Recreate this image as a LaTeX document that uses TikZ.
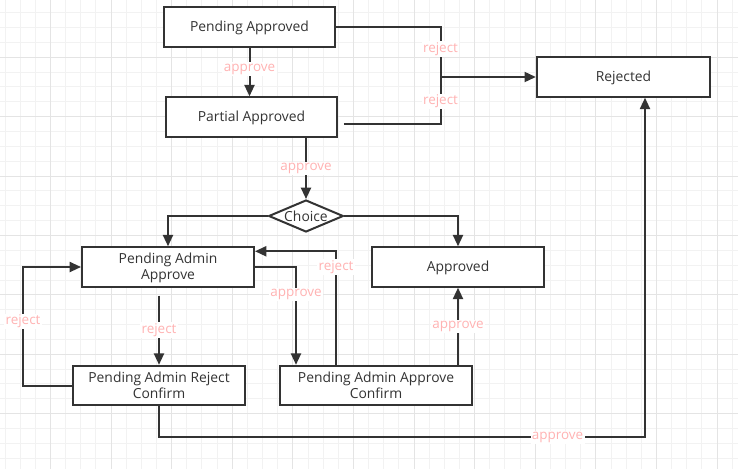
\documentclass[tikz,border=0pt]{standalone}
\usepackage{fontspec}
\setmainfont{Open Sans}
\usetikzlibrary{arrows.meta,shapes.geometric,calc}

\definecolor{ink}{RGB}{51,51,51}
\definecolor{lblpink}{RGB}{255,178,178}
\definecolor{gridminor}{RGB}{242,242,242}
\definecolor{gridmajor}{RGB}{228,228,228}

\tikzset{
  state/.style={draw=ink, line width=1.5pt, fill=white, text=ink, align=center,
    font=\fontsize{10.4}{12}\selectfont, inner sep=0pt, minimum height=29.6pt,
    text height=10pt, text depth=2.6pt},
  twoline/.style={text height=22pt, text depth=2.6pt},
  choicebox/.style={draw=ink, line width=1.5pt, fill=white, text=ink, diamond,
    aspect=2.4, inner sep=0pt, minimum width=56pt, minimum height=24pt,
    font=\fontsize{10.4}{12}\selectfont, text height=7.6pt, text depth=0pt},
  link/.style={draw=ink, line width=1.5pt},
  arr/.style={link, -{Triangle[width=7.5pt,length=8.5pt]}},
  lbl/.style={fill=white, text=lblpink, inner sep=1pt, font=\fontsize{10.1}{12}\selectfont}
}

\begin{document}
\begin{tikzpicture}[x=0.75pt,y=0.75pt,yscale=-1,xscale=1]
\useasboundingbox (0,0) rectangle (738,469);
\fill[white] (0,0) rectangle (738,469);

%Grid
\foreach \k in {0,...,48} \draw[gridminor, line width=0.75pt] (5+15.15*\k,0) -- (5+15.15*\k,469);
\foreach \k in {0,...,30} \draw[gridminor, line width=0.75pt] (0,12.7+14.85*\k) -- (738,12.7+14.85*\k);
\foreach \k in {3,7,...,47} \draw[gridmajor, line width=0.75pt] (5+15.15*\k,0) -- (5+15.15*\k,469);
\foreach \k in {3,7,...,27} \draw[gridmajor, line width=0.75pt] (0,12.7+14.85*\k) -- (738,12.7+14.85*\k);

%States
\node[state, minimum width=128pt] (pendapp) at (249.5,27) {Pending Approved};
\node[state, minimum width=128pt] (partapp) at (251.5,117) {Partial Approved};
\node[state, minimum width=130pt] (rejected) at (623.5,77) {Rejected};
\node[choicebox] (choice) at (306,216) {Choice};
\node[state, twoline, minimum width=129pt] (admapp) at (168,267) {Pending Admin\\Approve};
\node[state, minimum width=129pt] (approved) at (458,267) {Approved};
\node[state, twoline, minimum width=129pt] (admrej) at (159,385.5) {Pending Admin Reject\\Confirm};
\node[state, twoline, minimum width=144pt] (admconf) at (376,385.5) {Pending Admin Approve\\Confirm};
\coordinate (joinr) at (440.5,77);

%Links
\draw[arr] (pendapp.south) -- node[lbl, pos=0.44] {approve} (pendapp.south |- partapp.north);
\draw[link] (pendapp.east) -| node[lbl, pos=0.72] {reject} (joinr);
\draw[link] ($(partapp.east)+(6,7)$) -| node[lbl, pos=0.74] {reject} (joinr);
\draw[arr] (joinr) -- (rejected.west);
\draw[arr] (choice.north |- partapp.south) -- node[lbl] {approve} (choice.north);
\draw[arr] (choice.west) -| (admapp.north);
\draw[arr] (choice.east) -| (approved.north);
\draw[arr] ($(admrej.north |- admapp.south)+(0,8)$) -- node[lbl] {reject} (admrej.north);
\draw[arr] (admrej.west) -- ++(-49,0) |- node[lbl, pos=0.27] {reject} (admapp.west);
\draw[arr] (admapp.east) -| node[lbl, pos=0.64] {approve} ($(admconf.north west)+(17,0)$);
\draw[arr] ($(admconf.north west)+(57,0)$) |- node[lbl, pos=0.43] {reject} ($(admapp.north east)+(0,5)$);
\draw[arr] (approved.south |- admconf.north) -- node[lbl] {approve} (approved.south);
\draw[arr] (admrej.south) -- ++(0,31) -| node[lbl, pos=0.41] {approve} ($(rejected.south)+(21.5,0)$);

\end{tikzpicture}
\end{document}
